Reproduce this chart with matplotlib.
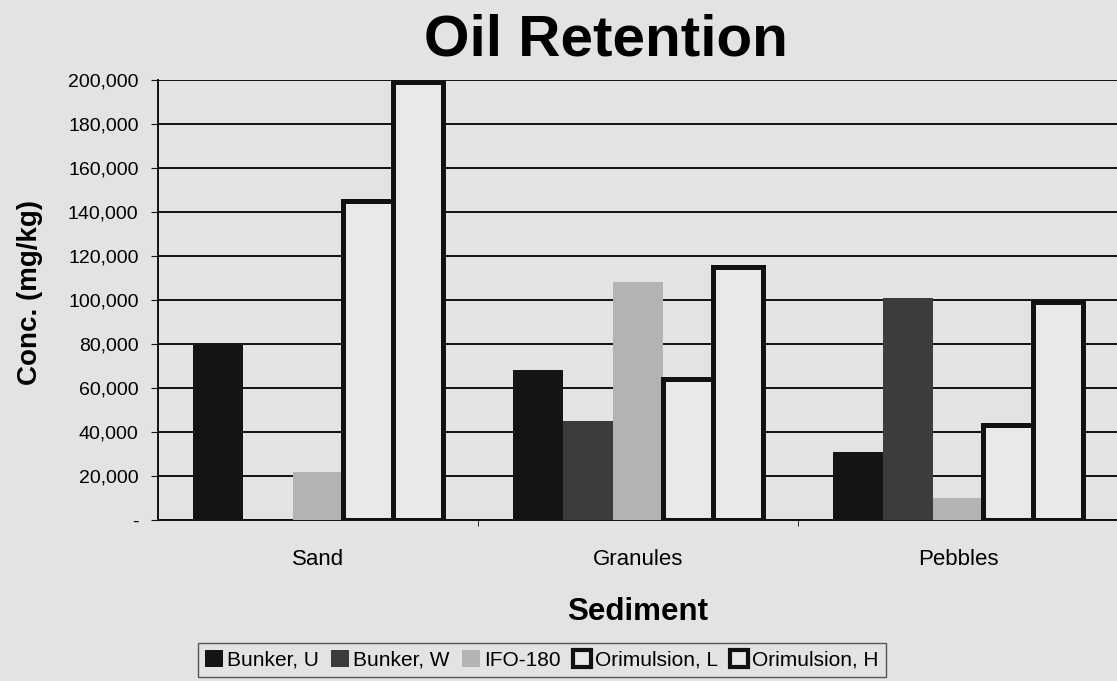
import matplotlib
matplotlib.use("Agg")
import matplotlib.pyplot as plt
import numpy as np
from matplotlib.ticker import FuncFormatter, FixedLocator

plt.rcParams['font.family'] = ['Liberation Sans', 'DejaVu Sans']

categories = ["Sand", "Granules", "Pebbles"]
series_names = ["Bunker, U", "Bunker, W", "IFO-180", "Orimulsion, L", "Orimulsion, H"]
bunker_u = [80000, 68000, 31000]
bunker_w = [0, 45000, 101000]
ifo_180 = [22000, 108000, 10000]
orim_l = [145000, 64000, 43000]
orim_h = [199000, 115000, 99000]
values = [bunker_u, bunker_w, ifo_180, orim_l, orim_h]

bg = "#e3e3e3"
fills = ["#141414", "#3c3c3c", "#b3b3b3", "#e9e9e9", "#e9e9e9"]
edges = ["#141414", "#3c3c3c", "#b3b3b3", "#111111", "#111111"]
lws = [0, 0, 0, 3.6, 3.6]

fig = plt.figure(figsize=(11.17, 6.81), dpi=100, facecolor=bg)
ax = fig.add_axes([0.1415, 0.2364, 0.8595, 0.6461])
ax.set_facecolor(bg)

x = np.arange(len(categories))
w = 0.156
offsets = (np.arange(5) - 2) * w
ax.set_axisbelow(True)
handles = []
for i in range(5):
    b = ax.bar(x + offsets[i], values[i], width=w, color=fills[i],
               edgecolor=edges[i], linewidth=lws[i], label=series_names[i],
               zorder=3)
    handles.append(b)

ax.set_xlim(-0.5, 2.5)
ax.set_ylim(0, 200000)
ax.yaxis.set_major_locator(FixedLocator(np.arange(0, 200001, 20000)))
ax.yaxis.set_major_formatter(FuncFormatter(lambda v, p: "-" if v == 0 else f"{int(v):,}"))
ax.grid(axis='y', color='#111111', linewidth=1.4, zorder=0)

ax.set_xticks(x)
ax.set_xticklabels(categories, fontsize=16)
ax.set_xticks([0.5, 1.5], minor=True)
ax.tick_params(axis='x', which='major', length=0, pad=21)
ax.tick_params(axis='x', which='minor', length=4, direction='out', color='#111111')
ax.tick_params(axis='y', length=5, direction='out', labelsize=14, color='#111111', pad=9)

for s in ['top', 'right']:
    ax.spines[s].set_visible(False)
ax.spines['left'].set_linewidth(1.4)
ax.spines['bottom'].set_linewidth(1.4)
ax.spines['left'].set_color('#111111')
ax.spines['bottom'].set_color('#111111')

ax.set_xlabel("Sediment", fontsize=22.5, fontweight='bold', labelpad=19)
fig.text(0.027, 0.571, "Conc. (mg/kg)", rotation=90, ha='center', va='center',
         fontsize=20, fontweight='bold')
fig.text(0.5425, 0.940, "Oil Retention", ha='center', va='center',
         fontsize=42, fontweight='bold')

leg = fig.legend(handles=handles, labels=series_names, loc='center',
                 bbox_to_anchor=(0.485, 0.031), ncol=5, fontsize=15,
                 frameon=True, fancybox=False, edgecolor='#333333',
                 facecolor=bg, handlelength=0.85, handleheight=0.85,
                 handletextpad=0.2, columnspacing=0.6, borderpad=0.35,
                 borderaxespad=0)
leg.get_frame().set_linewidth(1.0)
for h in leg.legend_handles:
    if h.get_linewidth() > 0:
        h.set_linewidth(3)

fig.savefig("out.png", dpi=100, facecolor=bg)
